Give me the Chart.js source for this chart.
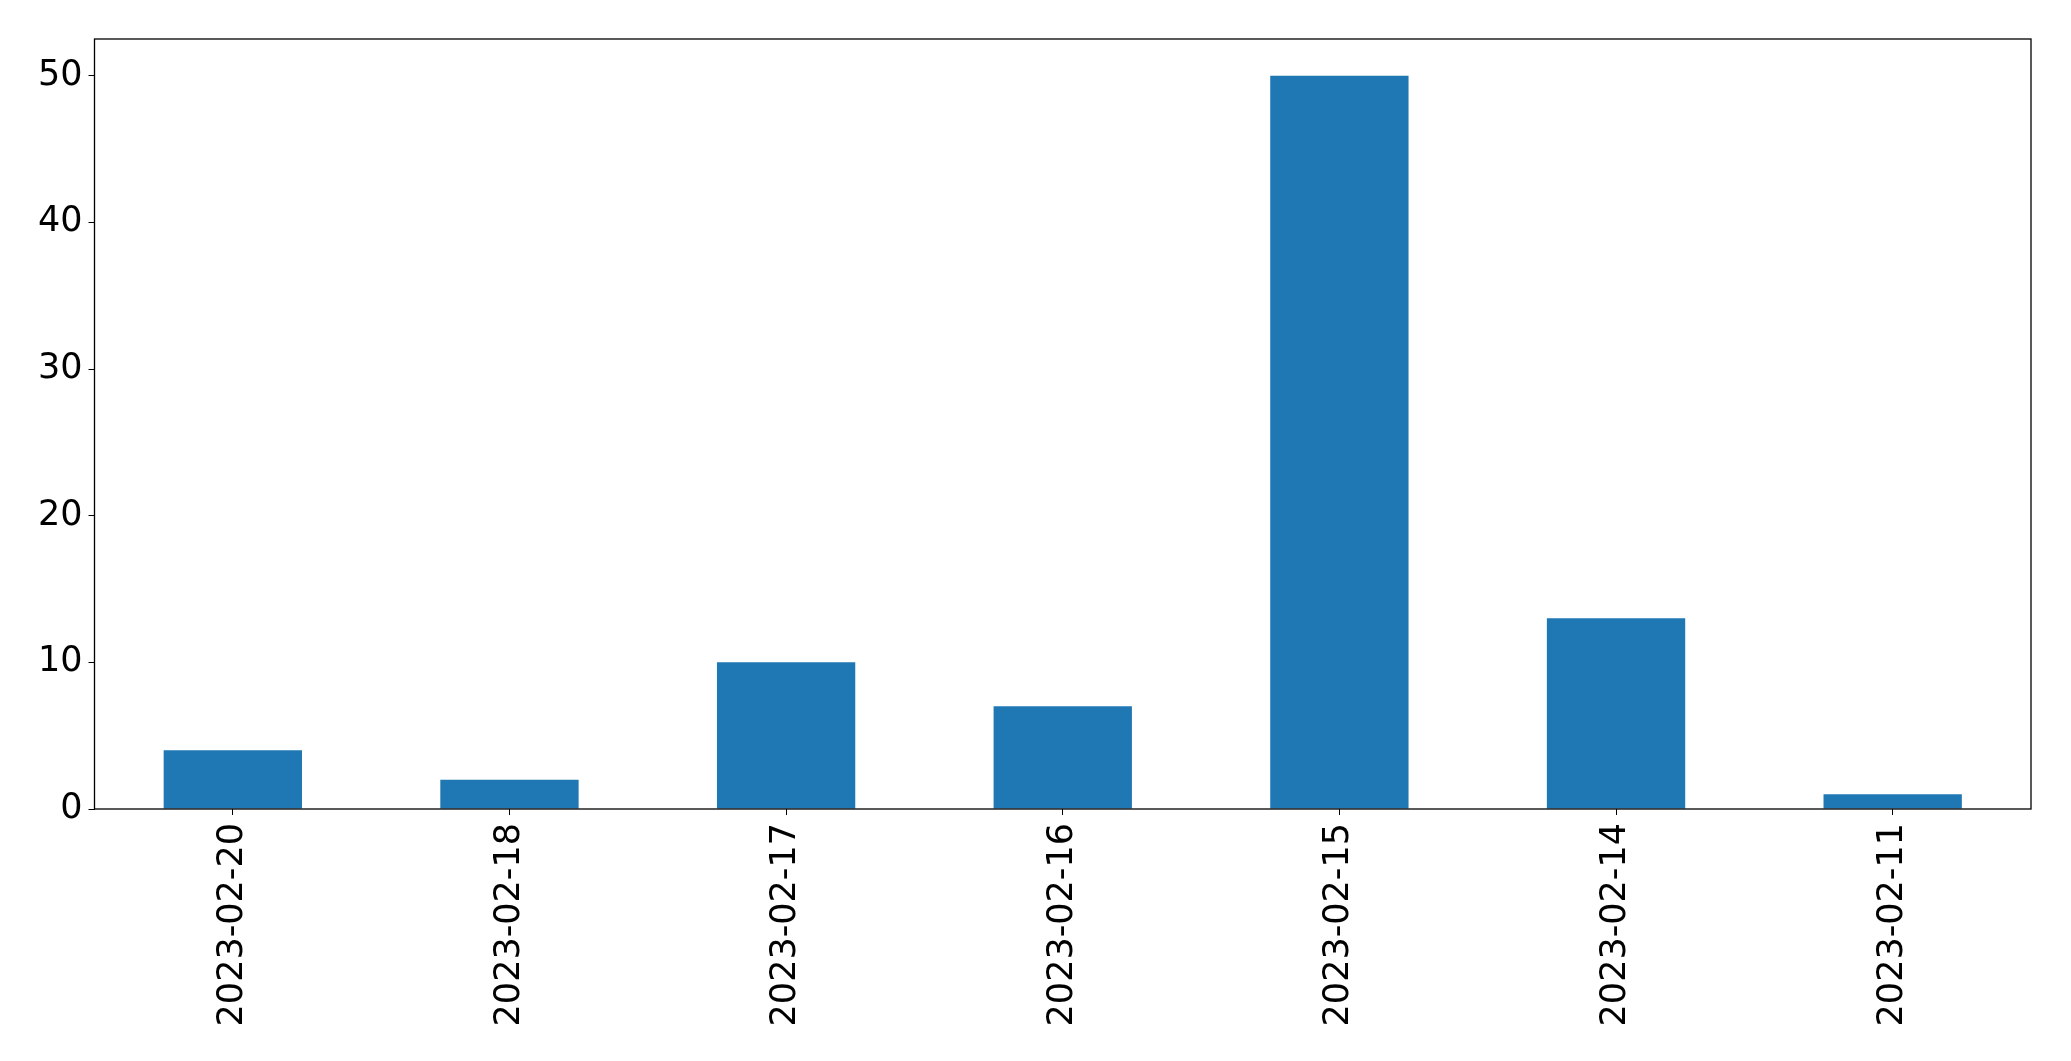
<!DOCTYPE html>
<html lang="en">
<head>
    <meta charset="UTF-8">
    <title>Counts by date</title>
    <script src="https://cdn.jsdelivr.net/npm/chart.js"></script>
    <style>
        body { margin: 0; background: #fff; }
    </style>
</head>
<body>
    <canvas id="countChart" width="2071" height="1061"></canvas>

    <script>
        const dates = ['2023-02-20', '2023-02-18', '2023-02-17', '2023-02-16', '2023-02-15', '2023-02-14', '2023-02-11'];
        const counts = [4, 2, 10, 7, 50, 13, 1];
        const yTicks = [0, 10, 20, 30, 40, 50];

        // matplotlib-style box around the plot area
        const frame = {
            id: 'frame',
            afterDraw(chart) {
                const a = chart.chartArea;
                const ctx = chart.ctx;
                ctx.save();
                ctx.strokeStyle = '#000';
                ctx.lineWidth = 1.3;
                ctx.strokeRect(a.left, a.top, a.right - a.left, a.bottom - a.top);
                ctx.restore();
            }
        };

        const ctx = document.getElementById('countChart').getContext('2d');
        new Chart(ctx, {
            type: 'bar',
            data: {
                labels: dates,
                datasets: [{
                    data: counts,
                    backgroundColor: '#1f77b4',
                    barPercentage: 0.5,
                    categoryPercentage: 1.0
                }]
            },
            options: {
                responsive: false,
                animation: false,
                devicePixelRatio: 1,
                layout: { padding: { top: 39, right: 40, left: 0, bottom: 0 } },
                plugins: {
                    legend: { display: false },
                    tooltip: { enabled: false }
                },
                scales: {
                    x: {
                        offset: true,
                        grid: { drawOnChartArea: false, tickLength: 6, color: '#000', offset: false },
                        border: { display: false },
                        ticks: {
                            color: '#000',
                            font: { family: 'DejaVu Sans', size: 35 },
                            minRotation: 90,
                            maxRotation: 90,
                            padding: 8
                        },
                        afterFit(scale) { scale.height = 252; }
                    },
                    y: {
                        min: 0,
                        max: 52.5,
                        grid: { drawOnChartArea: false, tickLength: 6, color: '#000' },
                        border: { display: false },
                        afterBuildTicks(scale) {
                            scale.ticks = yTicks.map(v => ({ value: v }));
                        },
                        ticks: {
                            color: '#000',
                            font: { family: 'DejaVu Sans', size: 35 },
                            padding: 6
                        },
                        afterFit(scale) { scale.width = 94.5; }
                    }
                }
            },
            plugins: [frame]
        });
    </script>
</body>
</html>
